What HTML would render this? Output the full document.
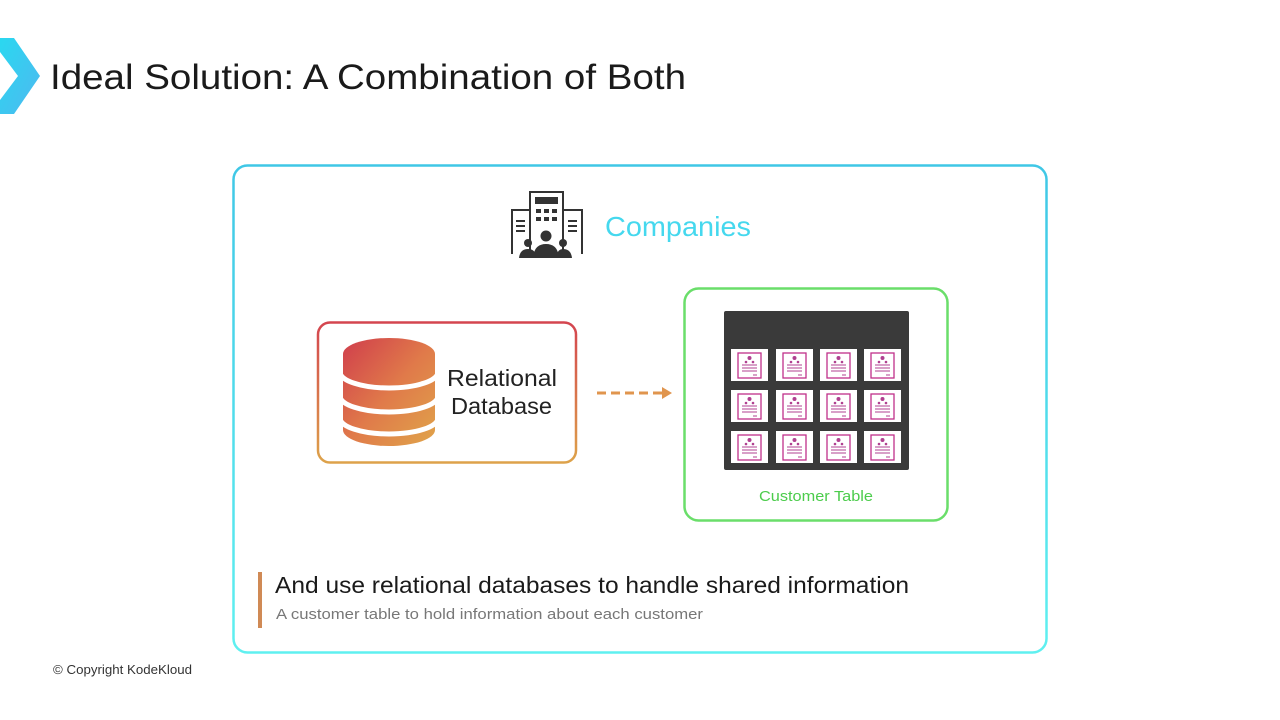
<!DOCTYPE html>
<html><head><meta charset="utf-8"><style>
body{margin:0;width:1280px;height:720px;background:#fff;overflow:hidden;font-family:"Liberation Sans",sans-serif}
svg{position:absolute;left:0;top:0}
</style></head><body>
<svg width="1280" height="720" viewBox="0 0 1280 720">
<defs>
<linearGradient id="cy" x1="0" y1="0" x2="0" y2="1"><stop offset="0" stop-color="#3fc7e6"/><stop offset="1" stop-color="#5ff0f0"/></linearGradient>
<linearGradient id="rd" x1="0" y1="0" x2="0" y2="1"><stop offset="0" stop-color="#d4454f"/><stop offset="1" stop-color="#dda24a"/></linearGradient>
<linearGradient id="db" x1="0" y1="0" x2="1" y2="1"><stop offset="0" stop-color="#cf3a4c"/><stop offset="0.5" stop-color="#e07a4a"/><stop offset="1" stop-color="#e0a84a"/></linearGradient>
<linearGradient id="ar" x1="0" y1="0" x2="1" y2="1"><stop offset="0" stop-color="#2ad8f0"/><stop offset="1" stop-color="#4fb8f0"/></linearGradient>
<g id="doc">
<rect x="0" y="0" width="37" height="32" fill="#fff"/>
<rect x="7" y="4" width="23" height="25" fill="none" stroke="#c0308a" stroke-width="1.3"/>
<circle cx="18.5" cy="9" r="2" fill="#b04090"/>
<circle cx="15" cy="13" r="1.3" fill="#b04090"/><circle cx="22" cy="13" r="1.3" fill="#b04090"/>
<line x1="11" y1="16" x2="26" y2="16" stroke="#b04090" stroke-width="1"/>
<line x1="11" y1="19" x2="26" y2="19" stroke="#b04090" stroke-width="1"/>
<line x1="11" y1="22" x2="26" y2="22" stroke="#b04090" stroke-width="1"/>
<line x1="22" y1="26" x2="26" y2="26" stroke="#b04090" stroke-width="1"/>
</g>
<clipPath id="dbc"><path d="M343 354 V430 A46 16 0 0 0 435 430 V354 A46 16 0 0 0 343 354Z"/></clipPath>
</defs>
<polygon points="0,38 14,38 40,76 14,114 0,114 0,100 18,76 0,52" fill="url(#ar)"/>
<text x="50" y="89" font-size="35" fill="#1a1a1a" textLength="636" lengthAdjust="spacingAndGlyphs">Ideal Solution: A Combination of Both</text>
<rect x="233.5" y="165.5" width="813" height="487" rx="14" fill="none" stroke="url(#cy)" stroke-width="2.5"/>
<g fill="none" stroke="#333" stroke-width="2">
<rect x="530" y="192" width="33" height="62"/>
<path d="M512 254 V210 H530 M563 210 H582 V254"/>
</g>
<g fill="#333">
<rect x="535" y="197" width="23" height="7"/>
<rect x="536" y="209" width="5" height="4"/><rect x="544" y="209" width="5" height="4"/><rect x="552" y="209" width="5" height="4"/>
<rect x="536" y="217" width="5" height="4"/><rect x="544" y="217" width="5" height="4"/><rect x="552" y="217" width="5" height="4"/>
<rect x="516" y="220" width="9" height="2"/><rect x="516" y="225" width="9" height="2"/><rect x="516" y="230" width="9" height="2"/>
<rect x="568" y="220" width="9" height="2"/><rect x="568" y="225" width="9" height="2"/><rect x="568" y="230" width="9" height="2"/>
<circle cx="546" cy="236" r="5.5"/><path d="M533 258 Q534 244 546 244 Q558 244 559 258Z"/>
<circle cx="528" cy="243" r="4"/><path d="M519 258 Q520 249 528 249 Q536 249 536 258Z"/>
<circle cx="563" cy="243" r="4"/><path d="M556 258 Q557 249 563 249 Q571 249 572 258Z"/>
</g>
<text x="605" y="236" font-size="28" fill="#45d8ee" textLength="146" lengthAdjust="spacingAndGlyphs">Companies</text>
<rect x="318" y="322.5" width="258" height="140" rx="12" fill="none" stroke="url(#rd)" stroke-width="2.5"/>
<g clip-path="url(#dbc)">
<rect x="340" y="335" width="100" height="115" fill="url(#db)"/>
<path d="M340 372 A49 16 0 0 0 438 372" fill="none" stroke="#fff" stroke-width="5"/>
<path d="M340 396 A49 16 0 0 0 438 396" fill="none" stroke="#fff" stroke-width="5"/>
<path d="M340 418 A49 16 0 0 0 438 418" fill="none" stroke="#fff" stroke-width="5"/>
</g>
<text x="447" y="386" font-size="23" fill="#222" textLength="110" lengthAdjust="spacingAndGlyphs">Relational</text>
<text x="451" y="414" font-size="23" fill="#222" textLength="101" lengthAdjust="spacingAndGlyphs">Database</text>
<line x1="597" y1="393" x2="662" y2="393" stroke="#e0954e" stroke-width="3" stroke-dasharray="9,5"/>
<polygon points="662,387 672,393 662,399" fill="#e0954e"/>
<rect x="684.5" y="288.5" width="263" height="232" rx="14" fill="none" stroke="#6ade6a" stroke-width="2.5"/>
<rect x="724" y="311" width="185" height="159" rx="2" fill="#3a3a3a"/>
<use href="#doc" x="731" y="349"/><use href="#doc" x="776" y="349"/><use href="#doc" x="820" y="349"/><use href="#doc" x="864" y="349"/>
<use href="#doc" x="731" y="390"/><use href="#doc" x="776" y="390"/><use href="#doc" x="820" y="390"/><use href="#doc" x="864" y="390"/>
<use href="#doc" x="731" y="431"/><use href="#doc" x="776" y="431"/><use href="#doc" x="820" y="431"/><use href="#doc" x="864" y="431"/>
<text x="759" y="501" font-size="15" fill="#4ccc4c" textLength="114" lengthAdjust="spacingAndGlyphs">Customer Table</text>
<rect x="258" y="572" width="4" height="56" fill="#d08a55"/>
<text x="275" y="593" font-size="23" fill="#1a1a1a" textLength="634" lengthAdjust="spacingAndGlyphs">And use relational databases to handle shared information</text>
<text x="276" y="619" font-size="15" fill="#777" textLength="427" lengthAdjust="spacingAndGlyphs">A customer table to hold information about each customer</text>
<text x="53" y="674" font-size="13" fill="#333" textLength="139" lengthAdjust="spacingAndGlyphs">© Copyright KodeKloud</text>
</svg>
</body></html>
